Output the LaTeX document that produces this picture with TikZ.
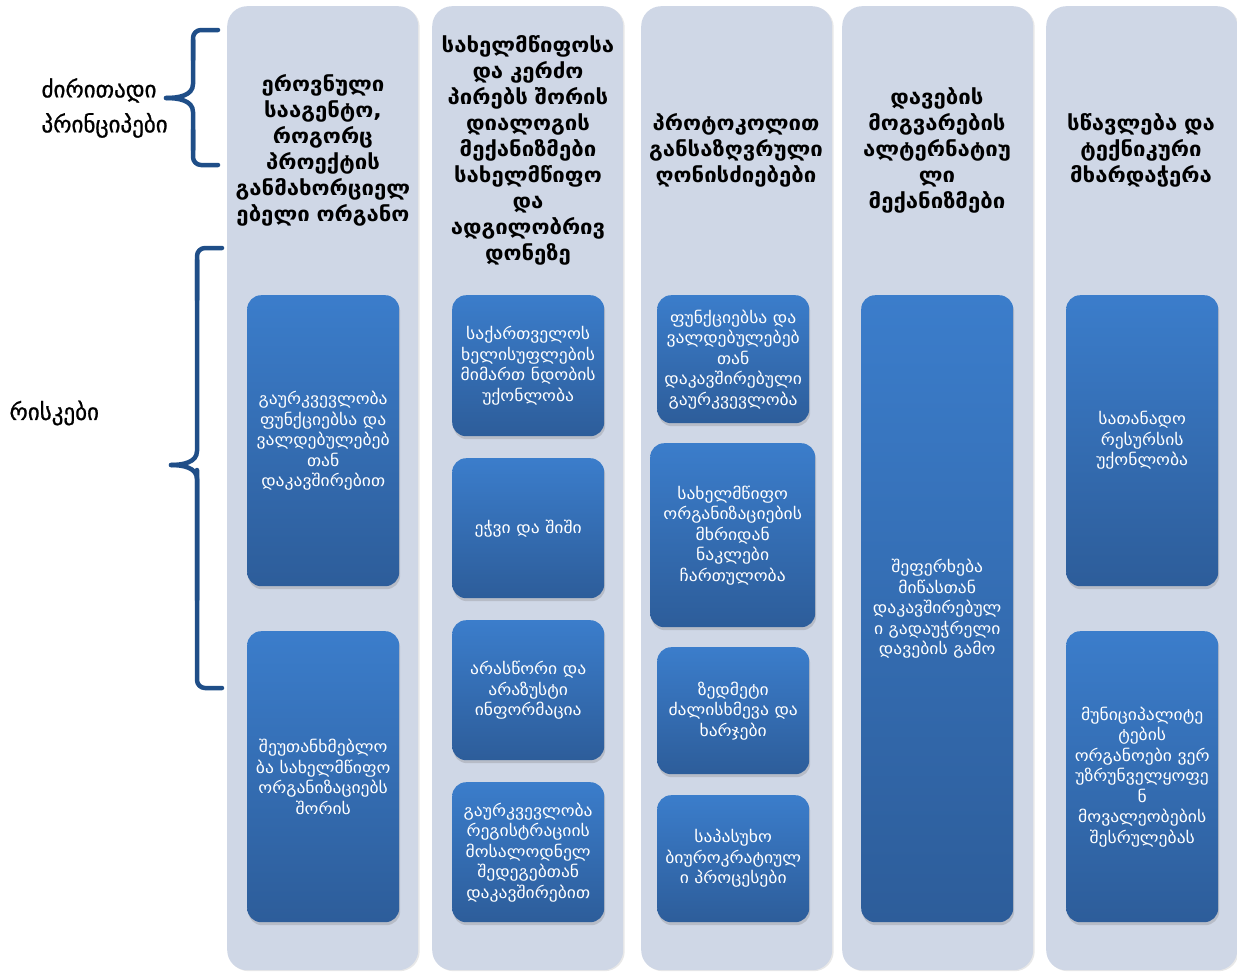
\documentclass[tikz,border=0pt]{standalone}
\usepackage{fontspec}
\setmainfont{DejaVu Sans}
\newfontfamily\hdfont{DejaVu Sans Bold}[FakeStretch=1.08]
\newfontfamily\bdfont{DejaVu Sans}[FakeStretch=1.1]
\newfontfamily\sdfont{DejaVu Sans}[FakeBold=0.9]
\usetikzlibrary{shadows}
\definecolor{colbg}{HTML}{CFD7E6}
\definecolor{boxtop}{HTML}{3B7DCB}
\definecolor{boxbot}{HTML}{2D5D9A}
\definecolor{brace}{HTML}{1F4E88}
\tikzset{
  colbox/.style={rectangle, rounded corners=20pt, fill=colbg, draw=none, anchor=north west,
    minimum width=191pt, drop shadow={shadow xshift=1.5pt, shadow yshift=-1pt, opacity=0.18}},
  head/.style={text width=188pt, align=center, font=\hdfont\fontsize{20.5}{26}\selectfont, text=black},
  riskbox/.style={rectangle, rounded corners=14pt, top color=boxtop, bottom color=boxbot, draw=none,
    anchor=north west, text=white, align=center, font=\bdfont\fontsize{16}{20.5}\selectfont,
    drop shadow={shadow xshift=1pt, shadow yshift=-3pt, opacity=0.3}},
  side/.style={anchor=west, align=left, font=\sdfont\fontsize{23}{35}\selectfont, text=black},
  bracepath/.style={draw=brace, line width=4.5pt, line cap=round, line join=round}
}
\begin{document}
\begin{tikzpicture}[x=1pt,y=-1pt]
\useasboundingbox (0,0) rectangle (1237,972);
% columns
\node[colbox, minimum height=964pt] (c1) at (227,6) {};
\node[colbox, minimum height=964pt] (c2) at (432,6) {};
\node[colbox, minimum height=964pt] (c3) at (641,6) {};
\node[colbox, minimum height=964pt] (c4) at (842,6) {};
\node[colbox, minimum height=964pt] (c5) at (1046,6) {};
% headers
\node[head] (h1) at (323,150) {ეროვნული\\სააგენტო,\\როგორც\\პროექტის\\განმახორციელ\\ებელი ორგანო};
\node[head] (h2) at (528,150) {სახელმწიფოსა\\და კერძო\\პირებს შორის\\დიალოგის\\მექანიზმები\\სახელმწიფო\\და\\ადგილობრივ\\დონეზე};
\node[head] (h3) at (736,150) {პროტოკოლით\\განსაზღვრული\\ღონისძიებები};
\node[head] (h4) at (937,150) {დავების\\მოგვარების\\ალტერნატიუ\\ლი\\მექანიზმები};
\node[head] (h5) at (1141,150) {სწავლება და\\ტექნიკური\\მხარდაჭერა};
% column 1 boxes
\node[riskbox, minimum width=152pt, minimum height=291pt] (b11) at (247,295) {გაურკვევლობა\\ფუნქციებსა და\\ვალდებულებებ\\თან\\დაკავშირებით};
\node[riskbox, minimum width=152pt, minimum height=291pt] (b12) at (247,631) {შეუთანხმებლო\\ბა სახელმწიფო\\ორგანიზაციებს\\შორის};
% column 2 boxes
\node[riskbox, minimum width=152pt, minimum height=141pt] (b21) at (452,295) {საქართველოს\\ხელისუფლების\\მიმართ ნდობის\\უქონლობა};
\node[riskbox, minimum width=152pt, minimum height=140pt] (b22) at (452,458) {ეჭვი და შიში};
\node[riskbox, minimum width=152pt, minimum height=140pt] (b23) at (452,620) {არასწორი და\\არაზუსტი\\ინფორმაცია};
\node[riskbox, minimum width=152pt, minimum height=140pt] (b24) at (452,782) {გაურკვევლობა\\რეგისტრაციის\\მოსალოდნელ\\შედეგებთან\\დაკავშირებით};
% column 3 boxes
\node[riskbox, minimum width=152pt, minimum height=128pt] (b31) at (657,295) {ფუნქციებსა და\\ვალდებულებებ\\თან\\დაკავშირებული\\გაურკვევლობა};
\node[riskbox, minimum width=165pt, minimum height=184pt] (b32) at (650,443) {სახელმწიფო\\ორგანიზაციების\\მხრიდან\\ნაკლები\\ჩართულობა};
\node[riskbox, minimum width=152pt, minimum height=127pt] (b33) at (657,647) {ზედმეტი\\ძალისხმევა და\\ხარჯები};
\node[riskbox, minimum width=152pt, minimum height=127pt] (b34) at (657,795) {საპასუხო\\ბიუროკრატიულ\\ი პროცესები};
% column 4 box
\node[riskbox, minimum width=152pt, minimum height=627pt] (b41) at (861,295) {შეფერხება\\მიწასთან\\დაკავშირებულ\\ი გადაუჭრელი\\დავების გამო};
% column 5 boxes
\node[riskbox, minimum width=152pt, minimum height=291pt] (b51) at (1066,295) {სათანადო\\რესურსის\\უქონლობა};
\node[riskbox, minimum width=152pt, minimum height=291pt] (b52) at (1066,631) {მუნიციპალიტე\\ტების\\ორგანოები ვერ\\უზრუნველყოფე\\ნ\\მოვალეობების\\შესრულებას};
% side labels
\node[side] (l1) at (38,108) {ძირითადი\\პრინციპები};
\node[side] (l2) at (6,413) {რისკები};
% braces
\coordinate (t1) at (218,30);
\coordinate (t2) at (218,165);
\coordinate (tm) at (166,98);
\draw[bracepath, rounded corners=8pt] (t1) -- (193,30) -- (193,60);
\draw[bracepath] (193,40) -- (193,84) to[out=-90,in=0] (tm);
\draw[bracepath] (tm) to[out=0,in=90] (193,112) -- (193,150);
\draw[bracepath, rounded corners=8pt] (193,130) -- (193,165) -- (t2);
\coordinate (r1) at (222,248);
\coordinate (r2) at (222,688);
\coordinate (rm) at (171,465);
\draw[bracepath, rounded corners=8pt] (r1) -- (197,248) -- (197,300);
\draw[bracepath] (197,260) -- (197,451) to[out=-90,in=0] (rm);
\draw[bracepath] (rm) to[out=0,in=90] (197,479) -- (197,600);
\draw[bracepath, rounded corners=8pt] (197,470) -- (197,688) -- (r2);
\end{tikzpicture}
\end{document}
